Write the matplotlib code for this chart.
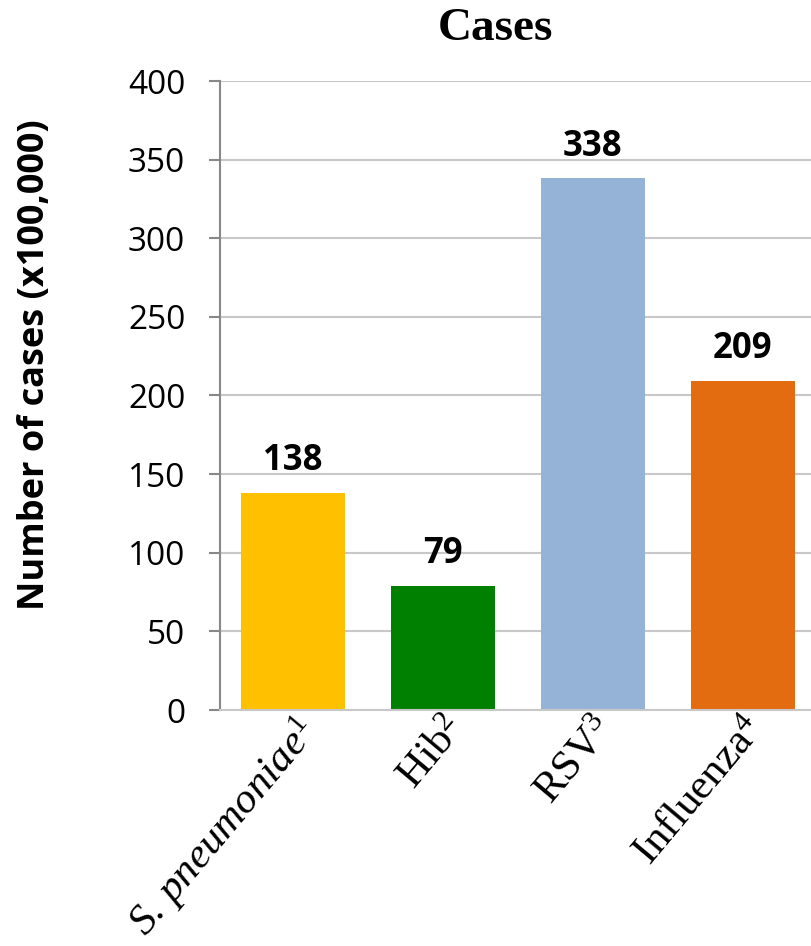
import matplotlib
matplotlib.use("Agg")
import matplotlib.pyplot as plt

# bar data
categories = [r"S. pneumoniae$^{\mathit{1}}$", r"Hib$^{2}$",
              r"RSV$^{3}$", r"Influenza$^{4}$"]
cases = [138, 79, 338, 209]
colors = ["#FFC000", "#008000", "#95B3D7", "#E46C10"]
yticks = [0, 50, 100, 150, 200, 250, 300, 350, 400]

plt.rcParams["mathtext.fontset"] = "custom"
plt.rcParams["mathtext.rm"] = "Liberation Serif"
plt.rcParams["mathtext.it"] = "Liberation Serif:italic"

fig = plt.figure(figsize=(8.12, 9.46), dpi=100)
ax = fig.add_axes([220 / 812, (946 - 710) / 946, 596 / 812, 629 / 946])

x = list(range(len(cases)))
bars = ax.bar(x, cases, width=0.69, color=colors, zorder=2)

ax.set_xlim(-0.487, len(cases) - 0.513)
ax.set_ylim(0, 400)
ax.set_yticks(yticks)
ax.set_yticklabels([str(t) for t in yticks], family="Open Sans", fontsize=24)
ax.grid(axis="y", color="#c8c8c8", linewidth=1.5, zorder=0)
ax.set_axisbelow(True)

for side in ["top", "right"]:
    ax.spines[side].set_visible(False)
ax.spines["left"].set_color("#888888")
ax.spines["left"].set_linewidth(1.5)
ax.spines["bottom"].set_color("#c8c8c8")
ax.spines["bottom"].set_linewidth(1.5)
ax.tick_params(axis="y", direction="out", length=8, width=1.5, color="#888888", pad=17)
ax.tick_params(axis="x", length=0, pad=0)

ax.set_xticks(x)
labels = ax.set_xticklabels(categories, rotation=50, ha="right",
                            rotation_mode="anchor", family="Liberation Serif",
                            fontsize=31)
labels[0].set_fontstyle("italic")

# value labels above bars
for xi, v in zip(x, cases):
    ax.annotate(str(v), (xi, v), xytext=(0, 10), textcoords="offset points",
                ha="center", va="bottom", family="Open Sans", fontweight="bold",
                fontsize=25)

ax.set_ylabel("Number of cases (x100,000)", family="Open Sans", fontweight="bold",
              fontsize=26)
ax.yaxis.set_label_coords(-0.28, 0.549)
fig.text(495 / 812, 1 - 29 / 946, "Cases", ha="center", va="center",
         family="Liberation Serif", fontweight="bold", fontsize=34)

fig.savefig("out.png", dpi=100)
